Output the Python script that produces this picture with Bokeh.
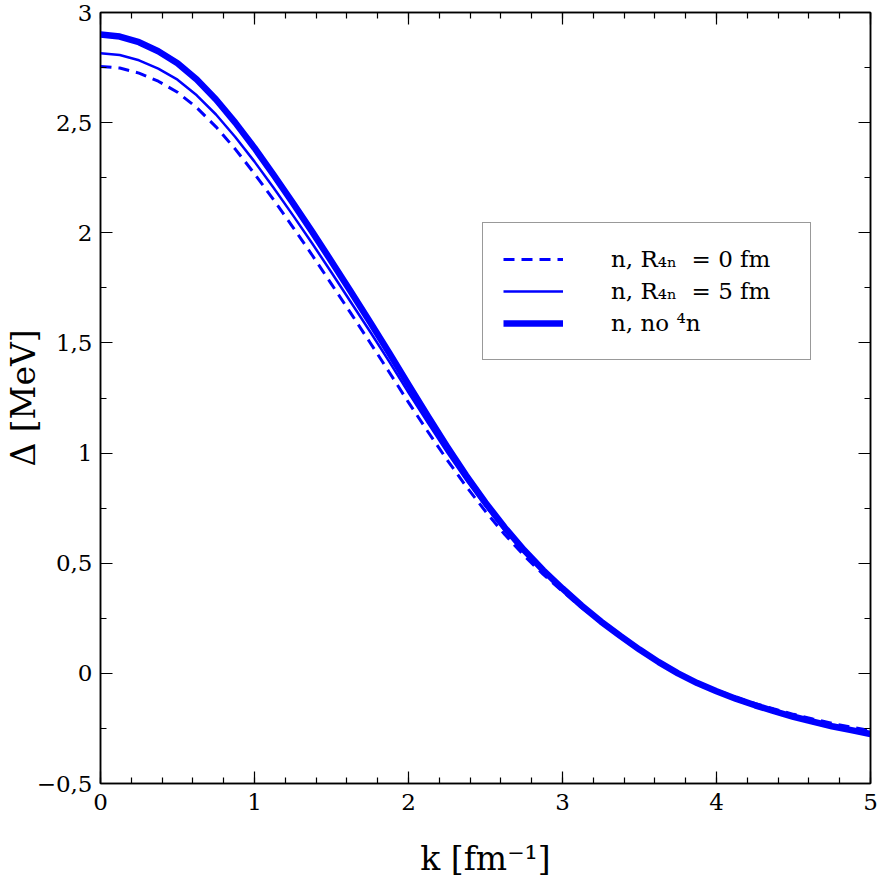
from bokeh.plotting import figure
from bokeh.models import FixedTicker, LinearAxis, Range1d, Legend, LegendItem
from bokeh.embed import file_html
from bokeh.resources import INLINE

# Momentum grid [fm^-1]
k = [0.000, 0.125, 0.250, 0.375, 0.500, 0.625, 0.750, 0.875, 1.000, 1.125,
     1.250, 1.375, 1.500, 1.625, 1.750, 1.875, 2.000, 2.125, 2.250, 2.375,
     2.500, 2.625, 2.750, 2.875, 3.000, 3.125, 3.250, 3.375, 3.500, 3.625,
     3.750, 3.875, 4.000, 4.125, 4.250, 4.375, 4.500, 4.625, 4.750, 4.875,
     5.000]

# Pairing gap Delta [MeV]
gap_r0 = [2.755, 2.748, 2.725, 2.688, 2.638, 2.568, 2.481, 2.380, 2.268, 2.149,
          2.025, 1.898, 1.767, 1.635, 1.502, 1.367, 1.230, 1.098, 0.970, 0.848,
          0.735, 0.630, 0.535, 0.449, 0.372, 0.298, 0.230, 0.168, 0.108, 0.053,
          0.003, -0.040, -0.076, -0.108, -0.137, -0.162, -0.186, -0.207, -0.227, -0.244,
          -0.260]
gap_r5 = [2.815, 2.807, 2.783, 2.745, 2.695, 2.624, 2.537, 2.435, 2.323, 2.203,
          2.079, 1.951, 1.820, 1.686, 1.552, 1.415, 1.275, 1.138, 1.005, 0.878,
          0.759, 0.649, 0.550, 0.461, 0.380, 0.304, 0.233, 0.169, 0.108, 0.051,
          0.000, -0.044, -0.081, -0.115, -0.144, -0.170, -0.194, -0.216, -0.236, -0.254,
          -0.270]
gap_no4n = [2.900, 2.891, 2.865, 2.824, 2.770, 2.696, 2.605, 2.500, 2.385, 2.262,
            2.135, 2.004, 1.870, 1.733, 1.595, 1.454, 1.310, 1.168, 1.030, 0.898,
            0.775, 0.662, 0.560, 0.468, 0.385, 0.307, 0.235, 0.170, 0.108, 0.051,
            0.000, -0.044, -0.081, -0.115, -0.145, -0.172, -0.197, -0.219, -0.240, -0.258,
            -0.275]

series_labels = ["n, R\u2084\u2099  = 0 fm", "n, R\u2084\u2099  = 5 fm", "n, no \u2074n"]

x_ticks = [0, 1, 2, 3, 4, 5]
x_minor = [i * 0.2 for i in range(26)]
y_ticks = [-0.5, 0.0, 0.5, 1.0, 1.5, 2.0, 2.5, 3.0]
y_tick_labels = ["\u22120,5", "0", "0,5", "1", "1,5", "2", "2,5", "3"]
y_minor = [-0.5 + i * 0.25 for i in range(15)]

FONT = "DejaVu Serif"
BLUE = "#0000ff"

p = figure(width=886, height=886, x_range=Range1d(0, 5), y_range=Range1d(-0.5, 3),
           output_backend="svg", toolbar_location=None,
           min_border_left=100, min_border_right=16, min_border_top=12, min_border_bottom=103)
p.xgrid.visible = False
p.ygrid.visible = False
p.outline_line_color = "black"
p.outline_line_width = 1.5
p.background_fill_color = "white"
p.border_fill_color = "white"

xt = FixedTicker(ticks=x_ticks, minor_ticks=x_minor)
yt = FixedTicker(ticks=y_ticks, minor_ticks=y_minor)


def style(ax, ticker, show_labels):
    ax.ticker = ticker
    ax.axis_line_color = "black"
    ax.axis_line_width = 1.5
    ax.major_tick_in = 12
    ax.major_tick_out = 0
    ax.minor_tick_in = 6
    ax.minor_tick_out = 0
    ax.major_tick_line_color = "black"
    ax.minor_tick_line_color = "black"
    ax.major_tick_line_width = 1.2
    ax.minor_tick_line_width = 1.2
    ax.major_label_text_font = FONT
    ax.axis_label_text_font = FONT
    ax.axis_label_text_font_style = "normal"
    ax.axis_label_text_color = "black"
    ax.major_label_text_color = "black"
    if show_labels:
        ax.major_label_text_font_size = "23px"
        ax.axis_label_text_font_size = "33px"
    else:
        ax.major_label_text_font_size = "0px"
        ax.major_label_text_color = None
        ax.major_label_standoff = 0


xa = p.xaxis[0]
style(xa, xt, True)
xa.axis_label = "k [fm\u207b\u00b9]"
xa.major_label_standoff = 10
xa.axis_label_standoff = 26

ya = p.yaxis[0]
style(ya, yt, True)
ya.axis_label = "\u0394 [MeV]"
ya.major_label_standoff = 8
ya.axis_label_standoff = -9
ya.major_label_overrides = {v: s for v, s in zip(y_ticks, y_tick_labels)}

top = LinearAxis()
style(top, xt, False)
p.add_layout(top, "above")
right = LinearAxis()
style(right, yt, False)
p.add_layout(right, "right")

r0 = p.line(k, gap_r0, line_color=BLUE, line_width=3, line_dash="11 7")
r5 = p.line(k, gap_r5, line_color=BLUE, line_width=2.5, line_join="round")
rn = p.line(k, gap_no4n, line_color=BLUE, line_width=6.5, line_join="round")

legend = Legend(
    items=[LegendItem(label=series_labels[0], renderers=[r0]),
           LegendItem(label=series_labels[1], renderers=[r5]),
           LegendItem(label=series_labels[2], renderers=[rn])],
    location=(382, 423),
    margin=0, padding=20, spacing=0,
    glyph_width=60, glyph_height=32, label_height=32,
    label_standoff=48, label_width=179,
    label_text_font=FONT, label_text_font_size="23px", label_text_color="black",
    border_line_color="#333333", border_line_width=1.3,
    background_fill_color="white", background_fill_alpha=1.0,
)
p.add_layout(legend)

open("out.html", "w").write(file_html(p, INLINE))
